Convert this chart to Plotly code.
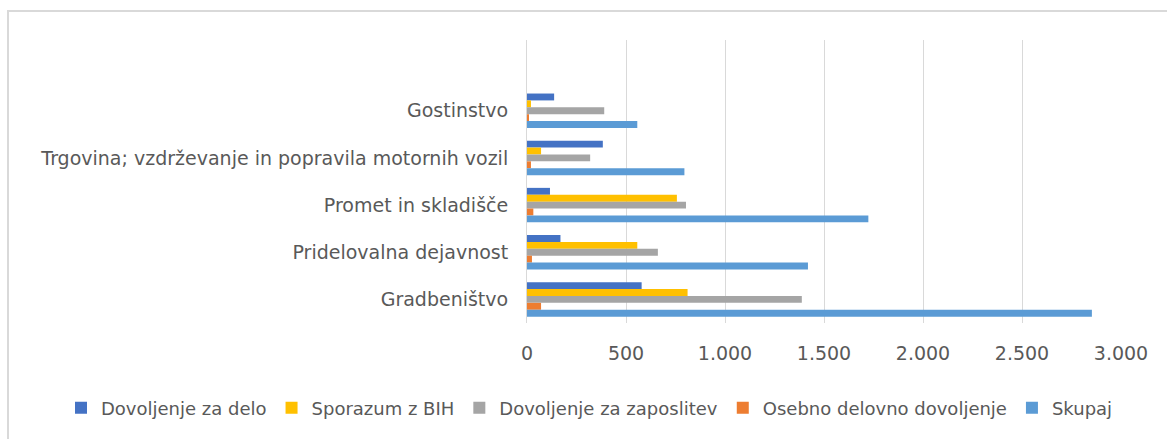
import plotly.graph_objects as go

categories = ["Gostinstvo",
              "Trgovina; vzdrževanje in popravila motornih vozil",
              "Promet in skladišče",
              "Pridelovalna dejavnost",
              "Gradbeništvo"]

series_names = ["Dovoljenje za delo", "Sporazum z BIH", "Dovoljenje za zaposlitev",
                "Osebno delovno dovoljenje", "Skupaj"]

dovoljenje_za_delo = [137, 383, 116, 169, 579]
sporazum_z_bih = [20, 71, 757, 557, 811]
dovoljenje_za_zaposlitev = [390, 319, 803, 661, 1388]
osebno_delovno_dovoljenje = [8, 20, 32, 25, 71]
skupaj = [557, 795, 1724, 1419, 2853]

x_ticks = [0, 500, 1000, 1500, 2000, 2500, 3000]

colors = ["#4472C4", "#FFC000", "#A5A5A5", "#ED7D31", "#5B9BD5"]
values = [dovoljenje_za_delo, sporazum_z_bih, dovoljenje_za_zaposlitev,
          osebno_delovno_dovoljenje, skupaj]

FONT = "DejaVu Sans"
TXT = "#595959"
FS = 19

fig = go.Figure()
for name, vals, col in zip(series_names, values, colors):
    fig.add_trace(go.Bar(y=categories, x=vals, name=name, orientation="h",
                         marker=dict(color=col, line=dict(width=0))))

W, H = 1167, 439
L, R, T, B = 527, 46, 40, 116
pw, ph = W - L - R, H - T - B

fig.update_layout(
    width=W, height=H,
    margin=dict(l=L, r=R, t=T, b=B, autoexpand=False),
    paper_bgcolor="white", plot_bgcolor="white",
    barmode="group", bargap=0.27, bargroupgap=0,
    separators=",.",
    font=dict(family=FONT, color=TXT, size=FS),
    xaxis=dict(range=[0, 3000], tickvals=x_ticks, tickformat=",d",
               showgrid=True, gridcolor="#D9D9D9", gridwidth=1,
               zeroline=False, showline=False, ticks="",
               ticklabelstandoff=17,
               tickfont=dict(family=FONT, size=FS, color=TXT)),
    yaxis=dict(type="category", categoryorder="array", categoryarray=categories,
               range=[4.5, -1.5], showgrid=False, zeroline=False,
               showline=True, linecolor="#D9D9D9", linewidth=1, ticks="",
               ticklabelstandoff=14,
               tickfont=dict(family=FONT, size=FS, color=TXT)),
    legend=dict(orientation="h", xref="paper", yref="paper",
                x=(61 - L) / pw, xanchor="left",
                y=-(408 - (T + ph)) / ph, yanchor="middle",
                font=dict(family=FONT, size=18, color=TXT),
                itemwidth=30, tracegroupgap=0),
    showlegend=True,
)

# chart frame (left and top edges visible)
fig.add_shape(type="rect", xref="paper", yref="paper",
              x0=(8 - L) / pw, x1=(W + 20 - L) / pw,
              y0=-(H + 20 - (T + ph)) / ph, y1=1 + (T - 11) / ph,
              line=dict(color="#D9D9D9", width=2), fillcolor="rgba(0,0,0,0)",
              layer="below")

fig.write_html("out.html", config={"displayModeBar": False},
               post_script="document.body.style.margin='0';document.body.style.overflow='hidden';")
